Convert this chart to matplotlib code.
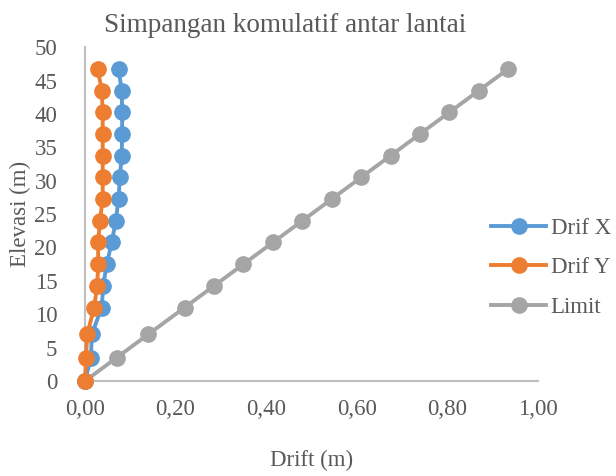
import matplotlib.pyplot as plt
from matplotlib.ticker import FuncFormatter

plt.rcParams['font.family'] = ['Liberation Serif', 'DejaVu Serif']

elevasi = [0, 3.5, 7, 11, 14.25, 17.5, 20.75, 24, 27.25, 30.5, 33.75, 37, 40.25, 43.5, 46.75]
drif_x = [0, 0.013, 0.015, 0.037, 0.040, 0.048, 0.059, 0.068, 0.074, 0.077, 0.081, 0.082, 0.082, 0.081, 0.074]
drif_y = [0, 0.002, 0.005, 0.020, 0.027, 0.029, 0.029, 0.033, 0.039, 0.039, 0.039, 0.039, 0.039, 0.037, 0.028]
limit = [0, 0.07, 0.14, 0.22, 0.285, 0.35, 0.415, 0.48, 0.545, 0.61, 0.675, 0.74, 0.805, 0.87, 0.935]

txt = '#595959'
fs = 16.5
fig = plt.figure(figsize=(6.16, 4.76), dpi=100)
ax = fig.add_axes([0.138, 0.1996, 0.735, 0.7014])

ax.plot(limit, elevasi, color='#A5A5A5', lw=2.8, marker='o', ms=11, label='Limit', zorder=2)
ax.plot(drif_y, elevasi, color='#ED7D31', lw=2.8, marker='o', ms=11, label='Drif Y', zorder=3)
ax.plot(drif_x, elevasi, color='#5B9BD5', lw=2.8, marker='o', ms=11, label='Drif X', zorder=2.5)

ax.set_xlim(0, 1)
ax.set_ylim(0, 50)
ax.set_xticks([0, 0.2, 0.4, 0.6, 0.8, 1.0])
ax.set_yticks(range(0, 51, 5))
ax.xaxis.set_major_formatter(FuncFormatter(lambda v, p: f'{v:.2f}'.replace('.', ',')))
ax.tick_params(length=0, labelsize=fs, colors=txt)
ax.tick_params(axis='x', pad=13)
ax.tick_params(axis='y', pad=20)
for s in ['top', 'right']:
    ax.spines[s].set_visible(False)
for s in ['left', 'bottom']:
    ax.spines[s].set_color('#BFBFBF')
    ax.spines[s].set_linewidth(1.5)
for l in ax.lines:
    l.set_clip_on(False)

fig.text(285 / 616, 1 - 25 / 476, 'Simpangan komulatif antar lantai', fontsize=19.5,
         color=txt, ha='center', va='center')
ax.set_xlabel('Drift (m)', fontsize=fs, color=txt)
ax.set_ylabel('Elevasi (m)', fontsize=fs, color=txt)
ax.xaxis.set_label_coords(0.5, -0.205)
ax.yaxis.set_label_coords(-0.12, 0.5)

h, lab = ax.get_legend_handles_labels()
order = [2, 1, 0]
fig.legend([h[i] for i in order], [lab[i] for i in order], loc='upper left',
           bbox_to_anchor=(491 / 616, 1 - 218 / 476), frameon=False, fontsize=fs,
           labelcolor=txt, borderpad=0, borderaxespad=0,
           handlelength=2.4, handletextpad=0.2, labelspacing=0.8)

fig.savefig('out.png', dpi=100)
